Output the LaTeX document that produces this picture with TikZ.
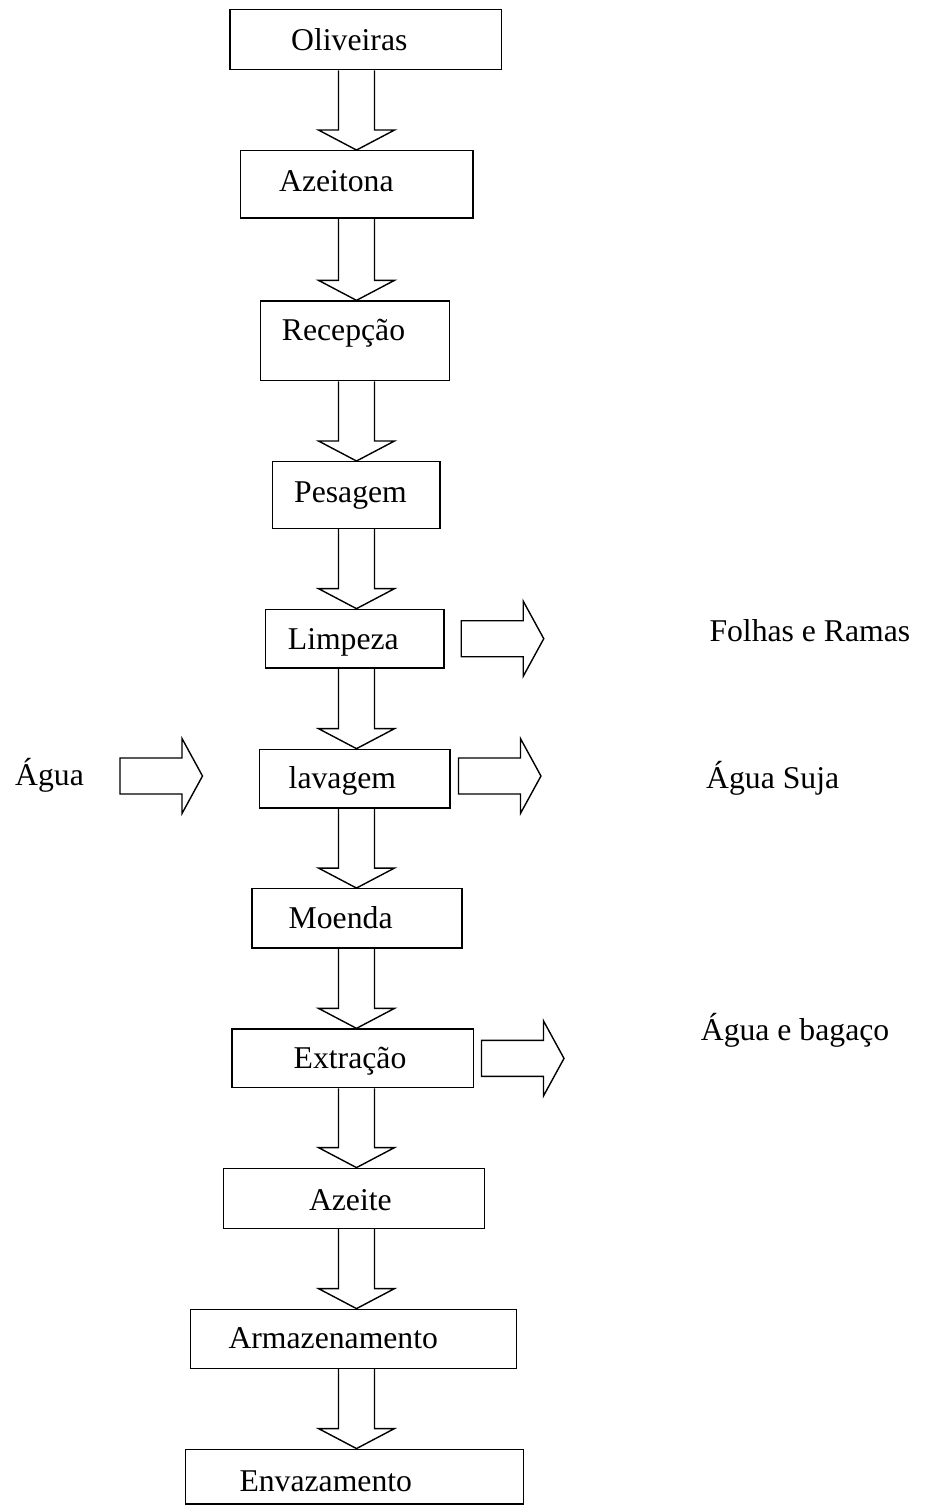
\documentclass[tikz,border=0pt]{standalone}
\usepackage{fontspec}
\setmainfont{Liberation Serif}
\usetikzlibrary{calc}
\newcommand\dnarrow[2]{%
  \draw[blk] ($(#1.south -| ax)+(-18,0)$) -- ($(#2.north -| ax)+(-18,-20)$) -- ++(-20,0)
     -- (#2.north -| ax) -- ++(38,-20) -- ++(-20,0) -- ($(#1.south -| ax)+(18,0)$);}
\newcommand\sidearrow[1]{%
  \draw[blk] #1 ++(0,-18) -- ++(62,0) -- ++(0,-19.5) -- ++(20.5,37.5) -- ++(-20.5,37.5)
     -- ++(0,-19.5) -- ++(-62,0) -- cycle;}
\begin{document}
\begin{tikzpicture}[x=1pt,y=-1pt,
  box/.style={draw, line width=1.4pt, rectangle, inner sep=0pt},
  txt/.style={anchor=base west, inner sep=0pt, font=\fontsize{31.7}{38}\selectfont},
  blk/.style={draw, line width=1.4pt, line join=miter}]
\useasboundingbox (0,0) rectangle (924,1506);
\coordinate (ax) at (356.5,0);

% boxes
\node[box, minimum width=271.7pt, minimum height=60.4pt] (oli) at (365.8,39.5) {};
\node[box, minimum width=232.3pt, minimum height=67.3pt] (aze) at (356.9,184.4) {};
\node[box, minimum width=188.6pt, minimum height=79.7pt] (rec) at (355.0,340.9) {};
\node[box, minimum width=167.3pt, minimum height=66.6pt] (pes) at (356.4,495.0) {};
\node[box, minimum width=178.3pt, minimum height=58.7pt] (lim) at (354.9,638.7) {};
\node[box, minimum width=190.7pt, minimum height=58.7pt] (lav) at (354.7,778.7) {};
\node[box, minimum width=210.2pt, minimum height=59.3pt] (moe) at (356.9,918.4) {};
\node[box, minimum width=241.4pt, minimum height=58.7pt] (ext) at (352.5,1058.4) {};
\node[box, minimum width=260.8pt, minimum height=60.0pt] (azt) at (353.8,1198.3) {};
\node[box, minimum width=326.4pt, minimum height=59.0pt] (arm) at (353.5,1338.8) {};
\node[box, minimum width=337.6pt, minimum height=54.7pt] (env) at (354.5,1476.6) {};

% box texts
\node[txt] (toli) at (291.0,50.7) {Oliveiras};
\node[txt] (taze) at (279.0,191.7) {Azeitona};
\node[txt] (trec) at (281.7,340.0) {Recepção};
\node[txt] (tpes) at (294.0,502.3) {Pesagem};
\node[txt] (tlim) at (287.7,649.0) {Limpeza};
\node[txt] (tlav) at (288.5,788.3) {lavagem};
\node[txt] (tmoe) at (288.5,928.3) {Moenda};
\node[txt] (text) at (293.5,1068.3) {Extração};
\node[txt] (tazt) at (308.8,1210.0) {Azeite};
\node[txt] (tarm) at (228.3,1348.3) {Armazenamento};
\node[txt] (tenv) at (239.3,1491.7) {Envazamento};

% side texts
\node[txt] (folhas) at (709.3,641.0) {Folhas e Ramas};
\node[txt] (suja) at (706.0,788.2) {Água Suja};
\node[txt] (bagaco) at (700.7,1040.0) {Água e bagaço};
\node[txt] (agua) at (15.0,785.0) {Água};

% down arrows
\dnarrow{oli}{aze}
\dnarrow{aze}{rec}
\dnarrow{rec}{pes}
\dnarrow{pes}{lim}
\dnarrow{lim}{lav}
\dnarrow{lav}{moe}
\dnarrow{moe}{ext}
\dnarrow{ext}{azt}
\dnarrow{azt}{arm}
\dnarrow{arm}{env}

% side arrows
\coordinate (agin) at (120,776);
\sidearrow{([xshift=16.5pt]lim.east)}
\sidearrow{([xshift=7.7pt,yshift=2.7pt]lav.east)}
\sidearrow{(agin)}
\sidearrow{([xshift=7.6pt]ext.east)}
\end{tikzpicture}
\end{document}
